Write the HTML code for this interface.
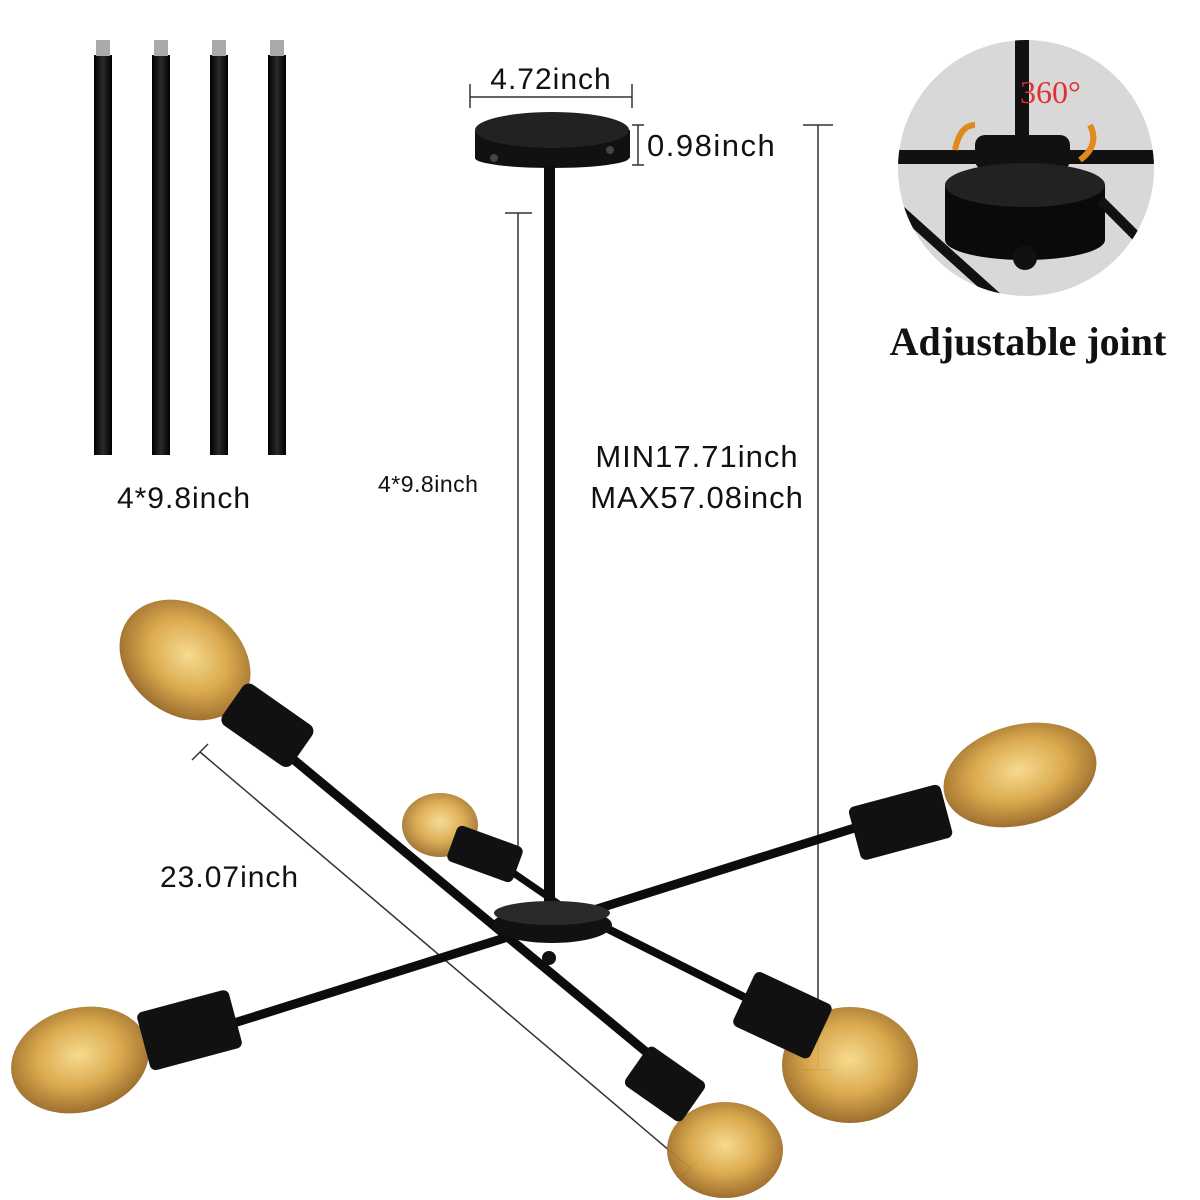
<!DOCTYPE html>
<html><head><meta charset="utf-8"><style>
html,body{margin:0;padding:0;background:#fff;}
svg{display:block;}
</style></head><body>
<svg width="1200" height="1200" viewBox="0 0 1200 1200" xmlns="http://www.w3.org/2000/svg">
<defs>
<radialGradient id="bulb" cx="50%" cy="45%" r="60%">
<stop offset="0" stop-color="#f6d98a"/><stop offset="0.5" stop-color="#d9a646"/><stop offset="1" stop-color="#8a5a1c"/>
</radialGradient>
<linearGradient id="rod" x1="0" x2="1"><stop offset="0" stop-color="#000"/><stop offset="0.5" stop-color="#2a2a2a"/><stop offset="1" stop-color="#000"/></linearGradient>
<clipPath id="cc"><circle cx="1026" cy="168" r="128"/></clipPath>
</defs>
<g>
<rect x="94" y="55" width="18" height="400" fill="url(#rod)"/><rect x="96" y="40" width="14" height="16" fill="#aaa"/>
<rect x="152" y="55" width="18" height="400" fill="url(#rod)"/><rect x="154" y="40" width="14" height="16" fill="#aaa"/>
<rect x="210" y="55" width="18" height="400" fill="url(#rod)"/><rect x="212" y="40" width="14" height="16" fill="#aaa"/>
<rect x="268" y="55" width="18" height="400" fill="url(#rod)"/><rect x="270" y="40" width="14" height="16" fill="#aaa"/>
</g>
<text x="184" y="508" font-family="Liberation Sans, sans-serif" font-size="30" letter-spacing="1" text-anchor="middle" fill="#111">4*9.8inch</text>
<g stroke="#333" stroke-width="1.5" fill="none">
<line x1="470" y1="97" x2="632" y2="97"/><line x1="470" y1="84" x2="470" y2="108"/><line x1="632" y1="84" x2="632" y2="108"/>
<line x1="638" y1="125" x2="638" y2="165"/><line x1="632" y1="125" x2="644" y2="125"/><line x1="632" y1="165" x2="644" y2="165"/>
<line x1="818" y1="125" x2="818" y2="1070"/><line x1="803" y1="125" x2="833" y2="125"/><line x1="803" y1="1070" x2="833" y2="1070"/>
<line x1="518" y1="213" x2="518" y2="850"/><line x1="505" y1="213" x2="532" y2="213"/>
<line x1="200" y1="752" x2="690" y2="1168"/><line x1="192" y1="760" x2="208" y2="744"/><line x1="682" y1="1176" x2="698" y2="1160"/>
</g>
<text x="551" y="89" font-family="Liberation Sans, sans-serif" font-size="30" letter-spacing="1" text-anchor="middle" fill="#111">4.72inch</text>
<text x="647" y="156" font-family="Liberation Sans, sans-serif" font-size="31" letter-spacing="1.5" fill="#111">0.98inch</text>
<text x="378" y="492" font-family="Liberation Sans, sans-serif" font-size="23" letter-spacing="0.5" fill="#111">4*9.8inch</text>
<text x="697" y="467" font-family="Liberation Sans, sans-serif" font-size="31" letter-spacing="1" text-anchor="middle" fill="#111">MIN17.71inch</text>
<text x="697" y="508" font-family="Liberation Sans, sans-serif" font-size="31" letter-spacing="1" text-anchor="middle" fill="#111">MAX57.08inch</text>
<text x="160" y="887" font-family="Liberation Sans, sans-serif" font-size="30" letter-spacing="1" fill="#111">23.07inch</text>
<rect x="475" y="130" width="155" height="28" fill="#111"/>
<ellipse cx="552" cy="158" rx="77" ry="10" fill="#111"/>
<ellipse cx="552" cy="130" rx="77" ry="18" fill="#222"/>
<circle cx="494" cy="158" r="4" fill="#444"/><circle cx="610" cy="150" r="4" fill="#444"/>
<rect x="544" y="165" width="11" height="740" fill="#0c0c0c"/>
<g stroke="#0c0c0c" stroke-linecap="round">
<line x1="270" y1="740" x2="680" y2="1080" stroke-width="9"/>
<line x1="180" y1="1040" x2="880" y2="820" stroke-width="9"/>
<line x1="480" y1="850" x2="560" y2="905" stroke-width="7"/>
<line x1="600" y1="925" x2="780" y2="1015" stroke-width="8"/>
</g>
<ellipse cx="552" cy="925" rx="60" ry="18" fill="#111"/>
<ellipse cx="552" cy="913" rx="58" ry="12" fill="#2a2a2a"/>
<circle cx="549" cy="958" r="7" fill="#111"/>
<g>
<ellipse cx="185" cy="660" rx="70" ry="55" transform="rotate(35 185 660)" fill="url(#bulb)" opacity="0.95"/>
<rect x="225" y="700" width="85" height="50" rx="8" transform="rotate(35 267 725)" fill="#111"/>
<ellipse cx="1020" cy="775" rx="78" ry="50" transform="rotate(-15 1020 775)" fill="url(#bulb)" opacity="0.95"/>
<rect x="853" y="795" width="95" height="55" rx="6" transform="rotate(-15 900 822)" fill="#111"/>
<ellipse cx="440" cy="825" rx="38" ry="32" fill="url(#bulb)" opacity="0.9"/>
<rect x="450" y="835" width="70" height="38" rx="6" transform="rotate(20 485 854)" fill="#111"/>
<ellipse cx="80" cy="1060" rx="70" ry="52" transform="rotate(-15 80 1060)" fill="url(#bulb)" opacity="0.95"/>
<rect x="142" y="1000" width="95" height="60" rx="6" transform="rotate(-15 190 1030)" fill="#111"/>
<ellipse cx="850" cy="1065" rx="68" ry="58" fill="url(#bulb)" opacity="0.95"/>
<rect x="740" y="985" width="85" height="60" rx="6" transform="rotate(25 782 1015)" fill="#111"/>
<ellipse cx="725" cy="1150" rx="58" ry="48" fill="url(#bulb)" opacity="0.95"/>
<rect x="630" y="1060" width="70" height="48" rx="6" transform="rotate(35 665 1084)" fill="#111"/>
</g>
<circle cx="1026" cy="168" r="128" fill="#d8d8d8"/>
<g clip-path="url(#cc)">
<rect x="1015" y="40" width="14" height="120" fill="#111"/>
<rect x="890" y="150" width="280" height="14" fill="#111"/>
<rect x="975" y="135" width="95" height="35" rx="10" fill="#111"/>
<rect x="945" y="185" width="160" height="55" fill="#0a0a0a"/>
<ellipse cx="1025" cy="185" rx="80" ry="22" fill="#222"/>
<ellipse cx="1025" cy="240" rx="80" ry="20" fill="#0a0a0a"/>
<circle cx="1025" cy="258" r="12" fill="#111"/>
<line x1="900" y1="210" x2="1000" y2="300" stroke="#111" stroke-width="10"/>
<line x1="1100" y1="200" x2="1170" y2="270" stroke="#111" stroke-width="10"/>
</g>
<path d="M955 150 q5 -25 20 -25" stroke="#e08a1e" stroke-width="6" fill="none"/>
<path d="M1090 125 q10 20 -10 35" stroke="#e08a1e" stroke-width="6" fill="none"/>
<text x="1020" y="103" font-family="Liberation Serif, serif" font-size="32" fill="#e03030">360°</text>
<text x="1028" y="355" font-family="Liberation Serif, serif" font-size="40" font-weight="bold" text-anchor="middle" fill="#111">Adjustable joint</text>
</svg>
</body></html>
